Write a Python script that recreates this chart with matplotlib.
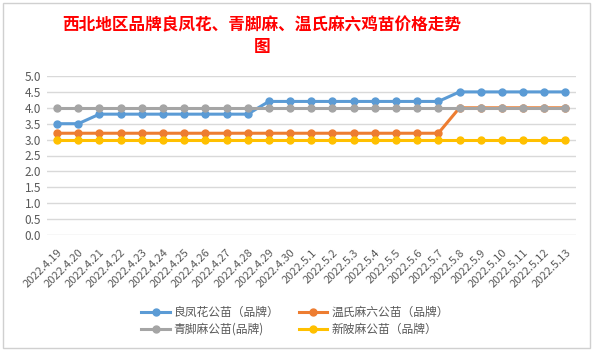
import matplotlib.pyplot as plt
from matplotlib.patches import Rectangle

plt.rcParams['font.family'] = ['Noto Sans CJK SC', 'DejaVu Sans']

dates = ["2022.4.19", "2022.4.20", "2022.4.21", "2022.4.22", "2022.4.23", "2022.4.24",
         "2022.4.25", "2022.4.26", "2022.4.27", "2022.4.28", "2022.4.29", "2022.4.30",
         "2022.5.1", "2022.5.2", "2022.5.3", "2022.5.4", "2022.5.5", "2022.5.6",
         "2022.5.7", "2022.5.8", "2022.5.9", "2022.5.10", "2022.5.11", "2022.5.12",
         "2022.5.13"]

liangfenghua = [3.5, 3.5, 3.8, 3.8, 3.8, 3.8, 3.8, 3.8, 3.8, 3.8,
                4.2, 4.2, 4.2, 4.2, 4.2, 4.2, 4.2, 4.2, 4.2,
                4.5, 4.5, 4.5, 4.5, 4.5, 4.5]
wenshi = [3.2] * 19 + [4.0] * 6
qingjiao = [4.0] * 25
xinpi = [3.0] * 25

labels = ["良凤花公苗（品牌）", "温氏麻六公苗（品牌）", "青脚麻公苗(品牌)", "新陂麻公苗（品牌）"]
colors = ["#5B9BD5", "#ED7D31", "#A5A5A5", "#FFC000"]

fig = plt.figure(figsize=(5.93, 3.54), dpi=100)
fig.patch.set_facecolor("white")
fig.patches.append(Rectangle((3 / 593, 6 / 354), 587 / 593, 345 / 354, transform=fig.transFigure,
                             fill=False, edgecolor="#D0D0D0", linewidth=1))

ax = fig.add_axes([46.5 / 593, 1 - 235 / 354, (576 - 46.5) / 593, (235 - 76) / 354])
x = range(len(dates))
lines = []
for vals, lab, c in zip([liangfenghua, wenshi, qingjiao, xinpi], labels, colors):
    ln, = ax.plot(x, vals, color=c, linewidth=2.2, marker="o", markersize=5, label=lab)
    lines.append(ln)

ax.set_xlim(-0.5, len(dates) - 0.5)
ax.set_ylim(0, 5)
ax.set_yticks([i * 0.5 for i in range(11)])
ax.set_yticklabels([f"{i * 0.5:.1f}" for i in range(11)], fontsize=8.5, color="#595959")
ax.set_xticks(list(x))
ax.set_xticklabels(dates, rotation=45, ha="right", rotation_mode="anchor", fontsize=8, color="#595959")
ax.tick_params(axis="x", length=0, pad=9)
ax.tick_params(axis="y", length=0, pad=4)
ax.grid(axis="y", color="#D9D9D9", linewidth=1)
ax.set_axisbelow(True)
for s in ax.spines.values():
    s.set_visible(False)

fig.text(262 / 593, 1 - 25 / 354, "西北地区品牌良凤花、青脚麻、温氏麻六鸡苗价格走势",
         ha="center", va="center", fontsize=12, color="#FF0000", fontweight="bold")
fig.text(262 / 593, 1 - 47 / 354, "图", ha="center", va="center", fontsize=12,
         color="#FF0000", fontweight="bold")

order = [0, 2, 1, 3]
fig.legend([lines[i] for i in order], [labels[i] for i in order], ncol=2,
           loc="center", bbox_to_anchor=(295 / 593, 1 - 321 / 354), frameon=False,
           fontsize=8.5, labelcolor="#595959", handlelength=2.4, columnspacing=1.7,
           handletextpad=0.3, labelspacing=0.3)

fig.savefig("out.png", dpi=100)
